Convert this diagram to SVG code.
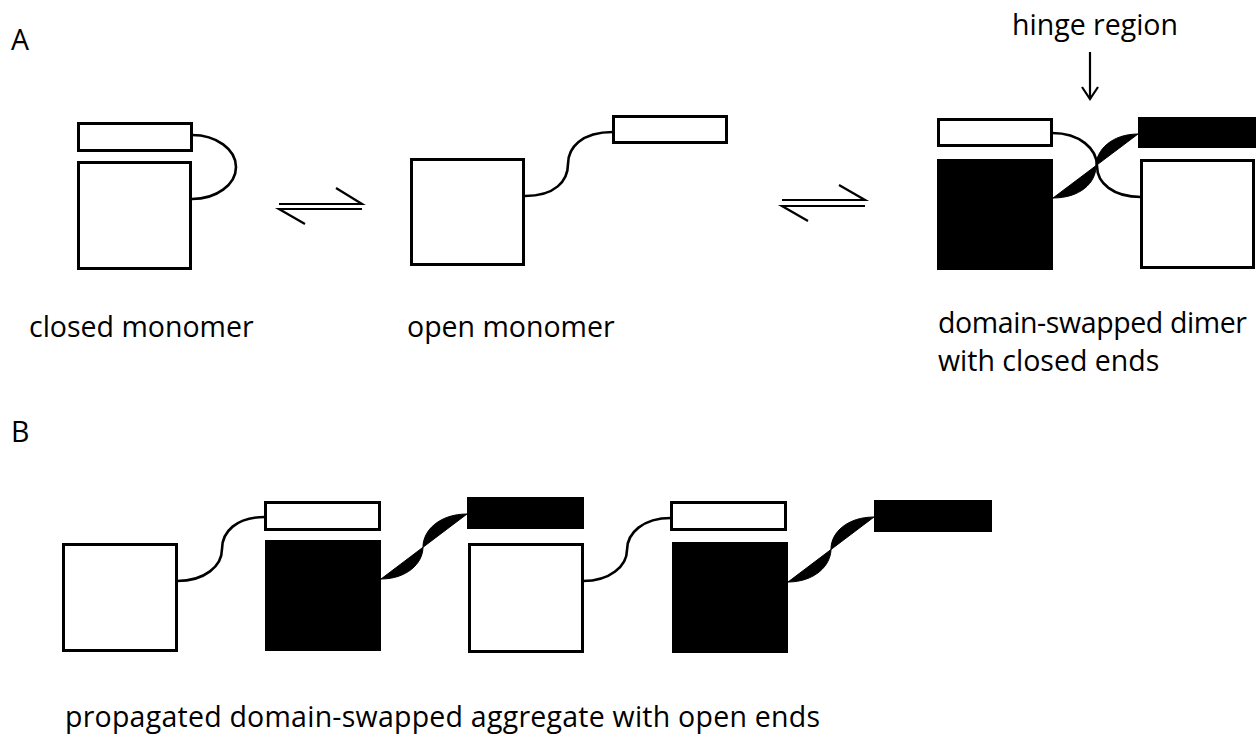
<svg xmlns="http://www.w3.org/2000/svg" width="1259" height="740" viewBox="0 0 1259 740">
<style>
  .w { fill: #fff; stroke: #000; stroke-width: 3; }
  .b { fill: #000; stroke: none; }
  .link { fill: none; stroke: #000; stroke-width: 2.6; }
  .rib { fill: #000; stroke: #000; stroke-width: 1; stroke-linejoin: round; }
  .eq { fill: none; stroke: #000; stroke-width: 2.2; }
  .t { font-family: "Open Sans", "Liberation Sans", sans-serif; font-size: 28.5px; fill: #000; }
</style>
<rect width="1259" height="740" fill="#fff"/>

<g id="labels">
  <text class="t" x="11" y="50">A</text>
  <text class="t" x="11" y="442">B</text>
  <text class="t" x="1012" y="35">hinge region</text>
  <text class="t" x="29" y="337">closed monomer</text>
  <text class="t" x="407" y="337">open monomer</text>
  <text class="t" x="938" y="333" textLength="309" lengthAdjust="spacing">domain-swapped dimer</text>
  <text class="t" x="938" y="371">with closed ends</text>
  <text class="t" x="65" y="727" textLength="755" lengthAdjust="spacing">propagated domain-swapped aggregate with open ends</text>
</g>

<g id="closed-monomer">
  <rect class="w" x="78.5" y="123.5" width="113" height="27"/>
  <rect class="w" x="78.5" y="162.5" width="112" height="106"/>
</g>

<g id="open-monomer">
  <rect class="w" x="411.5" y="159.5" width="112" height="105"/>
  <rect class="w" x="613.5" y="116.5" width="113" height="26"/>
</g>

<g id="dimer">
  <rect class="w" x="938.5" y="119.5" width="113" height="26"/>
  <rect class="b" x="937" y="159" width="116" height="111"/>
  <rect class="b" x="1138" y="117" width="118" height="31"/>
  <rect class="w" x="1141.5" y="160.5" width="112" height="107"/>
</g>

<g id="aggregate">
  <rect class="w" x="63.5" y="544.5" width="113" height="106"/>
  <rect class="w" x="265.5" y="502.5" width="114" height="27"/>
  <rect class="b" x="265" y="540" width="116" height="111"/>
  <rect class="b" x="467" y="497" width="117" height="32"/>
  <rect class="w" x="469.5" y="544.5" width="113" height="107"/>
  <rect class="w" x="671.5" y="502.5" width="114" height="27"/>
  <rect class="b" x="672" y="542" width="116" height="111"/>
  <rect class="b" x="874" y="500" width="118" height="32"/>
</g>

<g id="connectors">
  <path class="link" d="M192,135 A44,32 0 0 1 192,199"/>
  <path class="link" d="M525,196 C555,196 568,181 568,164 C568,148 581,132 613,132"/>
  <path class="link" d="M1052,133 C1080,133 1097,149 1097,166 C1097,183 1113,197 1141,197"/>
  <path class="rib" d="M1053,198 C1080,198 1096,183 1096,166 C1096,150 1112,134 1138,134 Z"/>

  <path class="link" d="M177,581 C205,581 222,566 222,549 C222,532 236,517 265,517"/>
  <path class="rib" d="M381,579 C406,579 423,564 423,547 C423,530 440,514 467,514 Z"/>
  <path class="link" d="M583,581 C610,581 627,566 627,550 C627,533 643,518 671,518"/>
  <path class="rib" d="M788,582 C814,582 831,566 831,549 C831,532 848,517 874,517 Z"/>

  <g id="equilibrium-1" class="eq">
    <path d="M279,204 H362 L336,188"/>
    <path d="M362,209 H279 L305,224"/>
  </g>
  <g id="equilibrium-2" class="eq">
    <path d="M782,200 H865 L839,185"/>
    <path d="M865,206 H782 L808,221"/>
  </g>
  <g id="hinge-arrow" class="eq">
    <path d="M1090,52 V99"/>
    <path d="M1082,87 L1090,99 L1098,87"/>
  </g>
</g>
</svg>
